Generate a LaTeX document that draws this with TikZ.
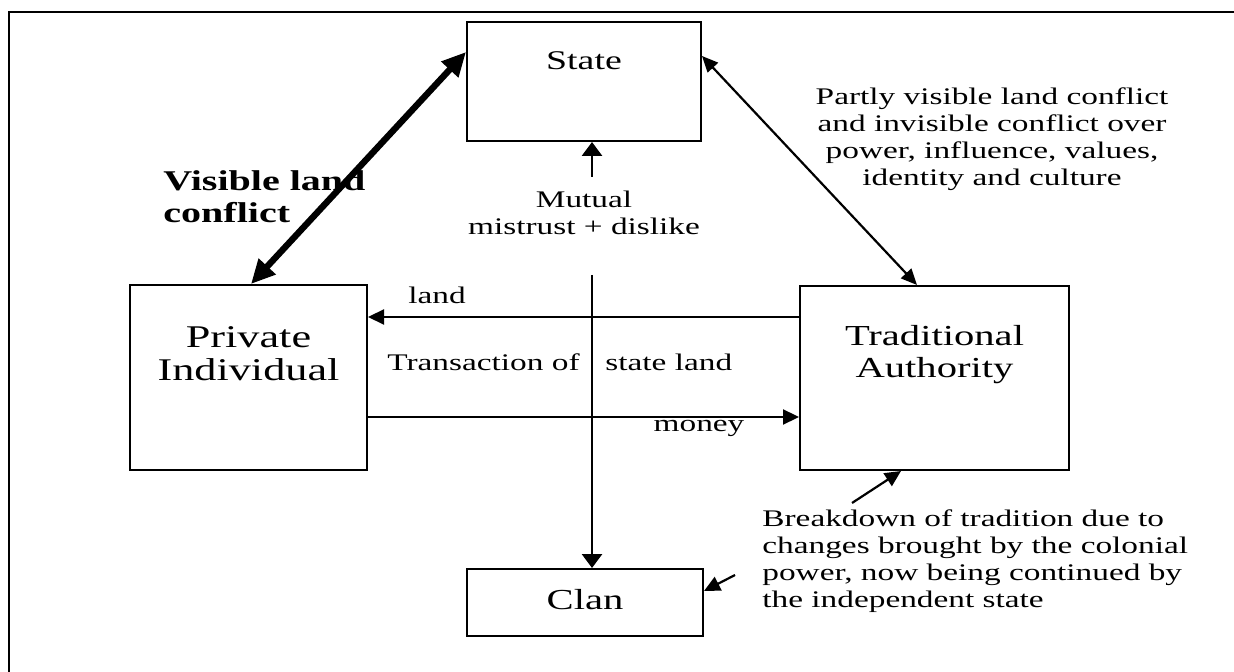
\documentclass[tikz,border=0pt]{standalone}
\usepackage{fontspec}
\setmainfont{Liberation Serif}[FakeStretch=1.4]
\usetikzlibrary{arrows.meta, positioning, calc}

\begin{document}
\begin{tikzpicture}[x=0.5pt, y=-0.5pt,
    block/.style={draw, line width=1pt, inner sep=0pt},
    boxtext/.style={font=\fontsize{14.5}{16}\selectfont, align=center, inner sep=0pt},
    note/.style={font=\fontsize{11.9}{13.5}\selectfont, inner sep=0pt},
    arr/.style={-{Triangle[length=8pt, width=7.5pt]}, line width=1.1pt},
    vert/.style={-{Triangle[length=7pt, width=10pt]}, line width=1.4pt},
    twoway/.style={{Triangle[length=8pt, width=7pt]}-{Triangle[length=8pt, width=7pt]}, line width=1.1pt}]
  \useasboundingbox (0,0) rectangle (1234,672);
  \draw[line width=1.2pt] (1234,12) -- (9,12) -- (9,672);

  % boxes
  \node[block, minimum width=117pt, minimum height=59.5pt]   (state) at (584,81.5) {};
  \node[block, minimum width=118.5pt, minimum height=92.5pt] (priv)  at (248.5,377.5) {};
  \node[block, minimum width=134.5pt, minimum height=92pt]   (trad)  at (934.5,378) {};
  \node[block, minimum width=118pt, minimum height=33.5pt]   (clan)  at (585,602.5) {};

  \node[boxtext, font=\fontsize{13.5}{16}\selectfont] (statetxt) at ($(state.north)+(0,40)$) {State};
  \node[boxtext, font=\fontsize{15.8}{16.5}\selectfont] (privtxt) at ($(priv.north)+(0,70)$) {Private\\Individual};
  \node[boxtext] (tradtxt)  at ($(trad.north)+(0,70)$) {Traditional\\Authority};
  \node[boxtext] (clantxt)  at ($(clan.center)+(0,-3)$) {Clan};

  % labels
  \node[note, font=\bfseries\fontsize{14.3}{16}\selectfont, align=left, anchor=west] (visible) at (163,197) {Visible land\\conflict};
  \node[note, align=center] (mutual) at (584,213) {Mutual\\mistrust + dislike};
  \node[note, align=center] (partly) at (992,139) {Partly visible land conflict\\and invisible conflict over\\power, influence, values,\\identity and culture};
  \node[note, align=left, anchor=west] (breakdown) at (762,561) {Breakdown of tradition due to\\changes brought by the colonial\\power, now being continued by\\the independent state};
  \node[note] (land)  at (437,295) {land};
  \node[note] (money) at (699,428) {money};
  \node[note, anchor=east] (trans) at (580,362) {Transaction of};
  \node[note, anchor=west] (stland) at (605,362) {state land};

  % connectors
  \coordinate (landstart)  at ($(trad.north west)+(0,32)$);
  \coordinate (moneystart) at ($(priv.north east)+(0,133)$);
  \coordinate (mutualtop)  at (592,177);
  \coordinate (mutualbot)  at (592,275);
  \coordinate (breaktail)  at (852,503);
  \coordinate (clantail)   at (735,575);

  \draw[line width=3.2pt, {Triangle[length=12pt, width=11pt]}-{Triangle[length=12pt, width=11pt]}]
    ($(priv.north west)+(122,0)$) -- ($(state.north west)+(0,31)$);
  \draw[twoway] ($(state.north east)+(0,35)$) -- ($(trad.north west)+(118,0)$);
  \draw[vert] (mutualtop) -- (mutualtop |- state.south);
  \draw[vert] (mutualbot) -- (mutualbot |- clan.north);
  \draw[arr] (landstart) -- (landstart -| priv.east);
  \draw[arr] (moneystart) -- (moneystart -| trad.west);
  \draw[arr] (breaktail) -- ($(trad.south west)+(102,0)$);
  \draw[arr] (clantail) -- ($(clan.north east)+(0,23)$);
\end{tikzpicture}
\end{document}
